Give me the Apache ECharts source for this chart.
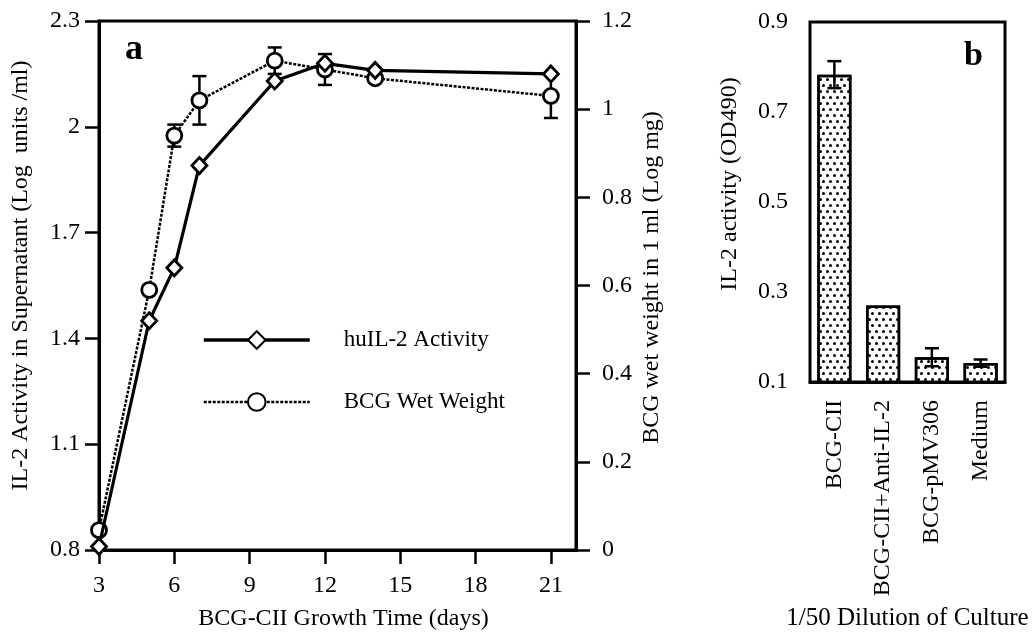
<!DOCTYPE html>
<html>
<head>
<meta charset="utf-8">
<script src="https://cdn.jsdelivr.net/npm/echarts@6/dist/echarts.min.js"></script>
<style>
html,body{margin:0;padding:0;background:#fff;}
#main{width:1034px;height:636px;}
</style>
</head>
<body>
<div id="main"></div>
<script>
// panel a : growth time course
var days = [3, 5, 6, 7, 10, 12, 14, 21];
var il2Activity = [0.81, 1.45, 1.60, 1.89, 2.13, 2.18, 2.16, 2.15];
var wetWeight = [0.045, 0.59, 0.94, 1.02, 1.11, 1.09, 1.07, 1.03];
var wetWeightErr = [0, 0, 0.025, 0.055, 0.03, 0.035, 0, 0.05];
var dayTicks = [3, 6, 9, 12, 15, 18, 21];
var leftTicks = [0.8, 1.1, 1.4, 1.7, 2.0, 2.3];
var rightTicks = [0, 0.2, 0.4, 0.6, 0.8, 1.0, 1.2];
// panel b : 1/50 dilution
var cultures = ['BCG-CII', 'BCG-CII+Anti-IL-2', 'BCG-pMV306', 'Medium'];
var od490 = [0.783, 0.27, 0.155, 0.142];
var od490Err = [0.03, 0, 0.02, 0.008];
var bTicks = [0.1, 0.3, 0.5, 0.7, 0.9];

var serif = 'Liberation Serif';
var black = '#000';
var dots = [3, 1.5];

function axisBase() {
    return {
        axisLine: {onZero: false, lineStyle: {color: black, width: 3}},
        axisTick: {length: 14, lineStyle: {color: black, width: 2.5}},
        axisLabel: {color: black, fontFamily: serif, fontSize: 24},
        splitLine: {show: false},
        nameTextStyle: {color: black, fontFamily: serif, fontSize: 24}
    };
}

//误差线
function errorBar(params, api) {
    var e = api.value(2);
    if (!e) return;
    var x = api.value(0), y = api.value(1);
    var hi = api.coord([x, y + e]);
    var lo = api.coord([x, y - e]);
    var w = 7;
    var st = {stroke: black, lineWidth: 2.5};
    return {
        type: 'group',
        children: [
            {type: 'line', shape: {x1: hi[0], y1: hi[1], x2: lo[0], y2: lo[1]}, style: st},
            {type: 'line', shape: {x1: hi[0] - w, y1: hi[1], x2: hi[0] + w, y2: hi[1]}, style: st},
            {type: 'line', shape: {x1: lo[0] - w, y1: lo[1], x2: lo[0] + w, y2: lo[1]}, style: st}
        ]
    };
}

var xa = axisBase();
xa.type = 'value'; xa.gridIndex = 0; xa.min = 3; xa.max = 22;
xa.axisTick.customValues = dayTicks;
xa.axisLabel.customValues = dayTicks;
xa.axisLabel.margin = 24;
xa.name = 'BCG-CII Growth Time (days)';
xa.nameLocation = 'middle'; xa.nameGap = 57;
xa.nameTextStyle.padding = [0, 0, 0, 12];

var xb = axisBase();
xb.type = 'category'; xb.gridIndex = 1; xb.data = cultures;
xb.axisTick.alignWithLabel = true; xb.axisTick.length = 16;
xb.axisLabel.rotate = 90; xb.axisLabel.margin = 18; xb.axisLabel.interval = 0;
xb.name = '1/50 Dilution of Culture';
xb.nameLocation = 'middle'; xb.nameGap = 224;
xb.nameTextStyle.fontSize = 25;

var yl = axisBase();
yl.type = 'value'; yl.gridIndex = 0; yl.min = 0.8; yl.max = 2.3;
yl.axisTick.customValues = leftTicks;
yl.axisLabel.customValues = leftTicks;
yl.axisLabel.margin = 19;
yl.name = 'IL-2 Activity in Supernatant (Log  units /ml)';
yl.nameLocation = 'middle'; yl.nameGap = 66; yl.nameRotate = 90;
yl.nameTextStyle.padding = [0, 0, 0, 20];

var yr = axisBase();
yr.type = 'value'; yr.gridIndex = 0; yr.position = 'right'; yr.min = 0; yr.max = 1.2;
yr.axisTick.customValues = rightTicks;
yr.axisLabel.customValues = rightTicks;
yr.axisLabel.margin = 26;
yr.name = 'BCG wet weight in 1 ml (Log mg)';
yr.nameLocation = 'middle'; yr.nameGap = 64; yr.nameRotate = 90;
yr.nameTextStyle.padding = [0, 0, 0, 16];

var yb = axisBase();
yb.type = 'value'; yb.gridIndex = 1; yb.min = 0.1; yb.max = 0.9;
yb.axisTick.customValues = bTicks; yb.axisTick.length = 13;
yb.axisLabel.customValues = bTicks;
yb.axisLabel.margin = 22;
yb.name = 'IL-2 activity (OD490)';
yb.nameLocation = 'middle'; yb.nameGap = 68; yb.nameRotate = 90;
yb.nameTextStyle.padding = [0, 0, 0, 36];

var option = {
    backgroundColor: '#fff',
    animation: false,
    title: [
        {text: 'a', left: 120, top: 27, textStyle: {fontFamily: serif, fontSize: 36, fontWeight: 'bold', color: black}},
        {text: 'b', left: 959, top: 34, textStyle: {fontFamily: serif, fontSize: 34, fontWeight: 'bold', color: black}}
    ],
    legend: {
        data: [
            {name: 'huIL-2 Activity', lineStyle: {width: 3.5}},
            {name: 'BCG Wet Weight', lineStyle: {width: 2.5, type: dots}}
        ],
        orient: 'vertical',
        left: 197, top: 323,
        itemWidth: 106, itemHeight: 22, itemGap: 38,
        selectedMode: false,
        textStyle: {fontFamily: serif, fontSize: 23, lineHeight: 24, color: black, padding: [0, 0, 0, 29]}
    },
    grid: [
        {left: 99, right: 458, top: 21, bottom: 85, show: true, borderColor: black, borderWidth: 3},
        {left: 810, right: 29, top: 22, bottom: 250, show: true, borderColor: black, borderWidth: 3}
    ],
    xAxis: [xa, xb],
    yAxis: [yl, yr, yb],
    series: [
        {
            type: 'custom', xAxisIndex: 0, yAxisIndex: 1, z: 1,
            renderItem: errorBar,
            data: days.map(function (d, i) { return [d, wetWeight[i], wetWeightErr[i]]; })
        },
        {
            name: 'BCG Wet Weight', type: 'line', xAxisIndex: 0, yAxisIndex: 1, z: 3,
            data: days.map(function (d, i) { return [d, wetWeight[i]]; }),
            symbol: 'circle', symbolSize: 15,
            lineStyle: {color: black, width: 2.5, type: dots},
            itemStyle: {color: '#fff', borderColor: black, borderWidth: 2.8}
        },
        {
            name: 'huIL-2 Activity', type: 'line', xAxisIndex: 0, yAxisIndex: 0, z: 4,
            data: days.map(function (d, i) { return [d, il2Activity[i]]; }),
            symbol: 'diamond', symbolSize: [15, 16],
            lineStyle: {color: black, width: 3.2},
            itemStyle: {color: '#fff', borderColor: black, borderWidth: 2.8}
        },
        {
            type: 'bar', xAxisIndex: 1, yAxisIndex: 2, barWidth: '70%', z: 2,
            data: od490,
            itemStyle: {
                color: '#fff', borderColor: black, borderWidth: 2.5,
                decal: {
                    symbol: 'circle', symbolSize: 1, color: black,
                    dashArrayX: [[2.2, 3.8], [0, 3, 2.2, 0.8]],
                    dashArrayY: [2.2, 2.3]
                }
            }
        },
        {
            type: 'custom', xAxisIndex: 1, yAxisIndex: 2, z: 5,
            renderItem: errorBar,
            data: cultures.map(function (c, i) { return [i, od490[i], od490Err[i]]; })
        }
    ]
};

var myChart = echarts.init(document.getElementById('main'));
myChart.setOption(option);
</script>
</body>
</html>
